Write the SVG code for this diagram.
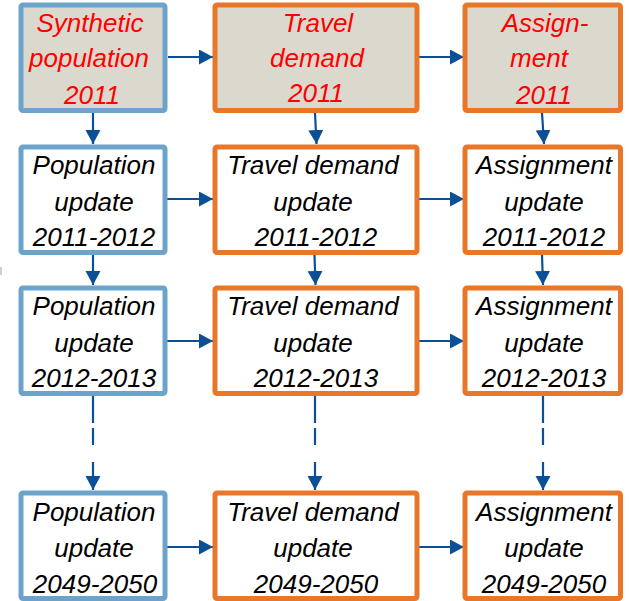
<svg xmlns="http://www.w3.org/2000/svg" width="629" height="601" viewBox="0 0 629 601">
<style>
.box{stroke-width:5;}
.pop{fill:#fff;stroke:#6BA3CB;}
.orn{fill:#fff;stroke:#E8772A;}
.base{fill:#DBD9CD;}
.t{font-family:"Liberation Sans",Arial,sans-serif;font-style:italic;font-size:26px;text-anchor:middle;fill:#000;}
.red{fill:#FF0000;}
.c{stroke:#0B4F97;stroke-width:2.2;fill:none;}
.d{stroke-dasharray:27 5 17 17 100;}
</style>
<defs>
<marker id="ah" markerUnits="userSpaceOnUse" markerWidth="15" markerHeight="16" refX="14" refY="7.5" orient="auto">
<path d="M0,0 L14,7.5 L0,15 Z" fill="#0B4F97"/>
</marker>
</defs>
<rect x="0" y="267" width="2" height="8" fill="#cfcfcf"/>
<g id="connectors">
<line class="c" x1="168" y1="57" x2="213" y2="57" marker-end="url(#ah)"/>
<line class="c" x1="419" y1="57" x2="464" y2="57" marker-end="url(#ah)"/>
<line class="c" x1="167" y1="199" x2="213" y2="199" marker-end="url(#ah)"/>
<line class="c" x1="419" y1="199" x2="464" y2="199" marker-end="url(#ah)"/>
<line class="c" x1="167" y1="341" x2="213" y2="341" marker-end="url(#ah)"/>
<line class="c" x1="419" y1="341" x2="464" y2="341" marker-end="url(#ah)"/>
<line class="c" x1="167" y1="547" x2="213" y2="547" marker-end="url(#ah)"/>
<line class="c" x1="419" y1="547" x2="464" y2="547" marker-end="url(#ah)"/>
<line class="c" x1="93" y1="113" x2="93" y2="144" marker-end="url(#ah)"/>
<line class="c" x1="315" y1="113" x2="316.5" y2="144" marker-end="url(#ah)"/>
<line class="c" x1="542" y1="113" x2="544" y2="144" marker-end="url(#ah)"/>
<line class="c" x1="93" y1="255" x2="93" y2="285" marker-end="url(#ah)"/>
<line class="c" x1="314.5" y1="255" x2="315.5" y2="285" marker-end="url(#ah)"/>
<line class="c" x1="542" y1="255" x2="543" y2="285" marker-end="url(#ah)"/>
<line class="c d" x1="93" y1="396" x2="93" y2="490" marker-end="url(#ah)"/>
<line class="c d" x1="315" y1="396" x2="315" y2="490" marker-end="url(#ah)"/>
<line class="c d" x1="543" y1="396" x2="543" y2="490" marker-end="url(#ah)"/>
</g>
<g id="syn2011">
<rect class="box pop base" x="21" y="5" width="144" height="105.5" rx="2"/>
<text class="t red" x="90" y="32">Synthetic</text>
<text class="t red" x="89" y="67">population</text>
<text class="t red" x="92" y="104">2011</text>
</g>
<g id="td2011">
<rect class="box orn base" x="215" y="5" width="202" height="105.5" rx="2"/>
<text class="t red" x="318" y="32">Travel</text>
<text class="t red" x="317" y="67">demand</text>
<text class="t red" x="316" y="102">2011</text>
</g>
<g id="as2011">
<rect class="box orn base" x="465" y="5" width="155.5" height="105.5" rx="2"/>
<text class="t red" x="545" y="32">Assign-</text>
<text class="t red" x="539" y="67">ment</text>
<text class="t red" x="544" y="104">2011</text>
</g>
<g id="pop1112">
<rect class="box pop" x="21" y="147" width="144" height="105.5" rx="2"/>
<text class="t" x="94" y="174">Population</text>
<text class="t" x="94" y="211">update</text>
<text class="t" x="94" y="246">2011-2012</text>
</g>
<g id="td1112">
<rect class="box orn" x="215" y="147" width="202" height="105.5" rx="2"/>
<text class="t" x="313" y="174">Travel demand</text>
<text class="t" x="313" y="211">update</text>
<text class="t" x="316" y="246">2011-2012</text>
</g>
<g id="as1112">
<rect class="box orn" x="465" y="147" width="155.5" height="105.5" rx="2"/>
<text class="t" x="544" y="174">Assignment</text>
<text class="t" x="544" y="211">update</text>
<text class="t" x="544" y="246">2011-2012</text>
</g>
<g id="pop1213">
<rect class="box pop" x="21" y="288" width="144" height="105.5" rx="2"/>
<text class="t" x="94" y="315">Population</text>
<text class="t" x="94" y="352">update</text>
<text class="t" x="94" y="387">2012-2013</text>
</g>
<g id="td1213">
<rect class="box orn" x="215" y="288" width="202" height="105.5" rx="2"/>
<text class="t" x="313" y="315">Travel demand</text>
<text class="t" x="313" y="352">update</text>
<text class="t" x="316" y="387">2012-2013</text>
</g>
<g id="as1213">
<rect class="box orn" x="465" y="288" width="155.5" height="105.5" rx="2"/>
<text class="t" x="544" y="315">Assignment</text>
<text class="t" x="544" y="352">update</text>
<text class="t" x="544" y="387">2012-2013</text>
</g>
<g id="pop4950">
<rect class="box pop" x="21" y="493" width="144" height="105.5" rx="2"/>
<text class="t" x="94" y="521">Population</text>
<text class="t" x="94" y="557">update</text>
<text class="t" x="95" y="593">2049-2050</text>
</g>
<g id="td4950">
<rect class="box orn" x="215" y="493" width="202" height="105.5" rx="2"/>
<text class="t" x="313" y="521">Travel demand</text>
<text class="t" x="313" y="557">update</text>
<text class="t" x="316" y="593">2049-2050</text>
</g>
<g id="as4950">
<rect class="box orn" x="465" y="493" width="155.5" height="105.5" rx="2"/>
<text class="t" x="544" y="521">Assignment</text>
<text class="t" x="544" y="557">update</text>
<text class="t" x="544" y="593">2049-2050</text>
</g>
</svg>
